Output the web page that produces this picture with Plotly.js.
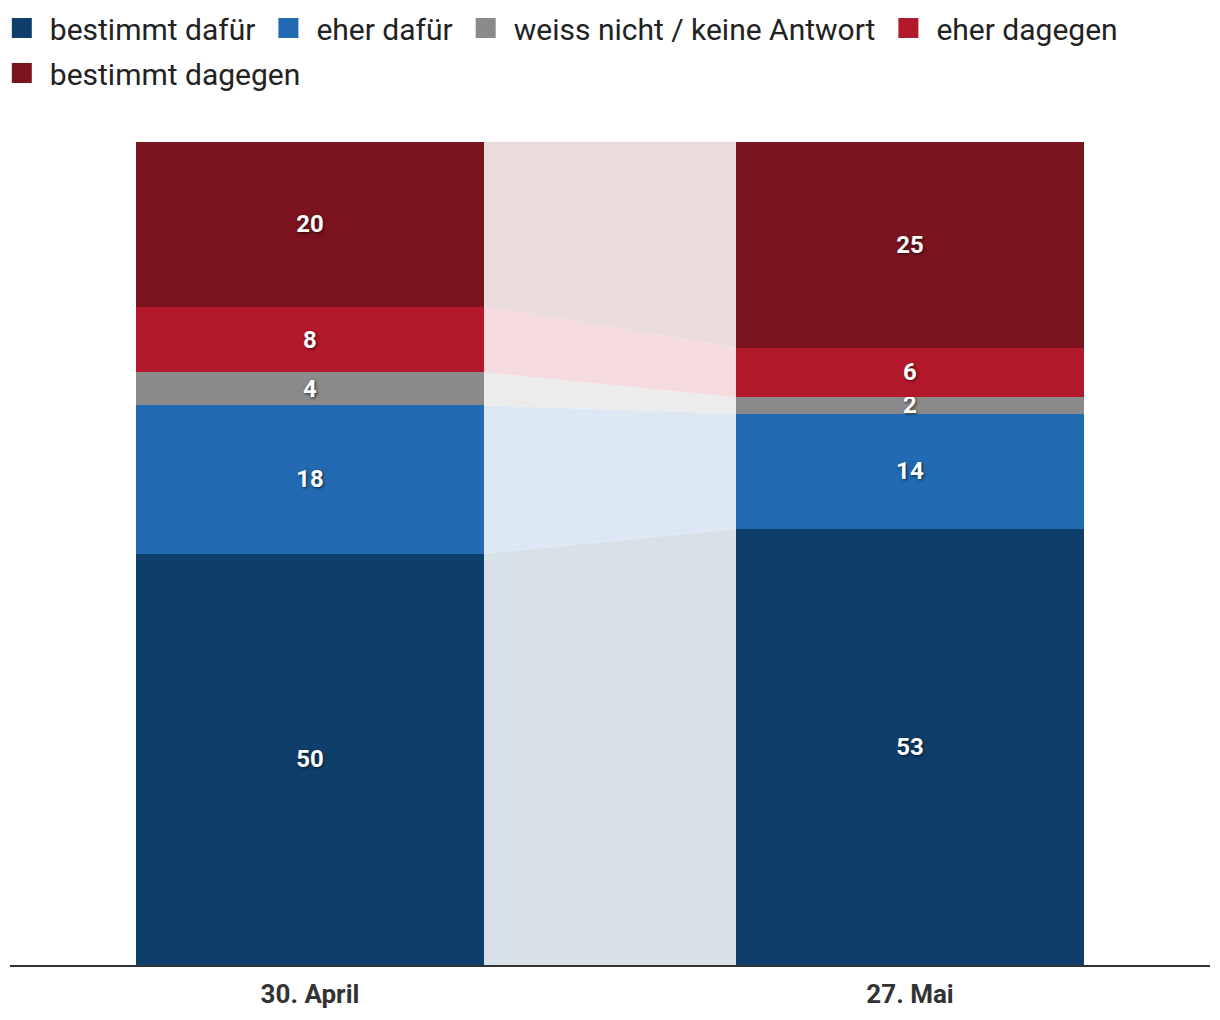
<!DOCTYPE html>
<html>
<head>
<meta charset="utf-8">
<script src="https://cdn.plot.ly/plotly-3.0.1.min.js"></script>
<style>html,body{margin:0;padding:0;background:#fff;}</style>
</head>
<body>
<div id="chart" style="width:1220px;height:1020px;"></div>
<script>
const categories = ['30. April', '27. Mai'];
const seriesNames = ['bestimmt dafür', 'eher dafür', 'weiss nicht / keine Antwort', 'eher dagegen', 'bestimmt dagegen'];
const bestimmtDafuer = [50, 53];
const eherDafuer = [18, 14];
const weissNicht = [4, 2];
const eherDagegen = [8, 6];
const bestimmtDagegen = [20, 25];

const seriesValues = [bestimmtDafuer, eherDafuer, weissNicht, eherDagegen, bestimmtDagegen];
const colors = ['#0e3f6b', '#226bb2', '#8a8a8a', '#b3182b', '#7b141f'];
const lightColors = ['#d9e1e8', '#dce8f4', '#ececec', '#f6dbde', '#eadcdc'];
const legendRow = ['legend', 'legend', 'legend', 'legend', 'legend2'];

const xPos = categories.map((c, i) => i);
const barWidth = 0.58;
const traces = [];

// connectors
const cum = categories.map(() => 0);
seriesValues.forEach((vals, s) => {
  const lower = cum.slice();
  const upper = cum.map((c, i) => c + vals[i]);
  const x0 = xPos[0] + barWidth / 2, x1 = xPos[1] - barWidth / 2;
  traces.push({
    type: 'scatter', mode: 'lines', fill: 'toself',
    x: [x0, x1, x1, x0, x0],
    y: [lower[0], lower[1], upper[1], upper[0], lower[0]],
    fillcolor: lightColors[s], line: {width: 0, color: lightColors[s]},
    hoverinfo: 'skip', showlegend: false
  });
  for (let i = 0; i < cum.length; i++) cum[i] = upper[i];
});

// bars
seriesValues.forEach((vals, s) => {
  traces.push({
    type: 'bar', x: xPos, y: vals, width: barWidth, name: seriesNames[s],
    marker: {color: colors[s], line: {width: 0}},
    text: vals.map(String), textposition: 'inside', insidetextanchor: 'middle', textangle: 0,
    textfont: {color: '#ffffff', size: 24, family: 'Roboto', weight: 'bold', shadow: '1px 1px 3px rgba(0,0,0,0.7)'},
    showlegend: false, hoverinfo: 'skip', cliponaxis: false
  });
});

// legend entries
seriesNames.forEach((n, s) => {
  traces.push({
    type: 'scatter', mode: 'markers', x: [null], y: [null], name: n,
    legend: legendRow[s],
    marker: {symbol: 'square', size: 16, color: colors[s], line: {width: 4, color: colors[s]}},
    showlegend: true, hoverinfo: 'skip'
  });
});

const legendBase = {
  orientation: 'h', xanchor: 'left', yanchor: 'top',
  font: {size: 30, color: '#222', family: 'Roboto'},
  traceorder: 'normal', itemclick: false, itemdoubleclick: false,
  itemwidth: 46,
  bgcolor: 'rgba(0,0,0,0)'
};

const layout = {
  width: 1220, height: 1020,
  margin: {l: 10, r: 10, t: 142, b: 55, autoexpand: false},
  paper_bgcolor: '#ffffff', plot_bgcolor: '#ffffff',
  barmode: 'stack', bargap: 0,
  font: {family: 'Roboto', color: '#222'},
  uniformtext: {mode: 'show', minsize: 24},
  showlegend: true,
  legend: Object.assign({}, legendBase, {x: -0.0135, y: 1.170}),
  legend2: Object.assign({}, legendBase, {x: -0.0135, y: 1.1155}),
  xaxis: {
    range: [-0.5, 1.5], tickvals: xPos, ticktext: categories,
    showgrid: false, zeroline: false, showline: true, linecolor: '#333', linewidth: 2,
    ticks: 'outside', ticklen: 5, tickcolor: 'rgba(0,0,0,0)',
    tickfont: {size: 26, color: '#333', family: 'Roboto', weight: 'bold'},
    fixedrange: true
  },
  yaxis: {
    range: [0, 100], visible: false, showgrid: false, zeroline: false, fixedrange: true
  }
};

Plotly.newPlot('chart', traces, layout, {displayModeBar: false, staticPlot: true});
</script>
</body>
</html>
